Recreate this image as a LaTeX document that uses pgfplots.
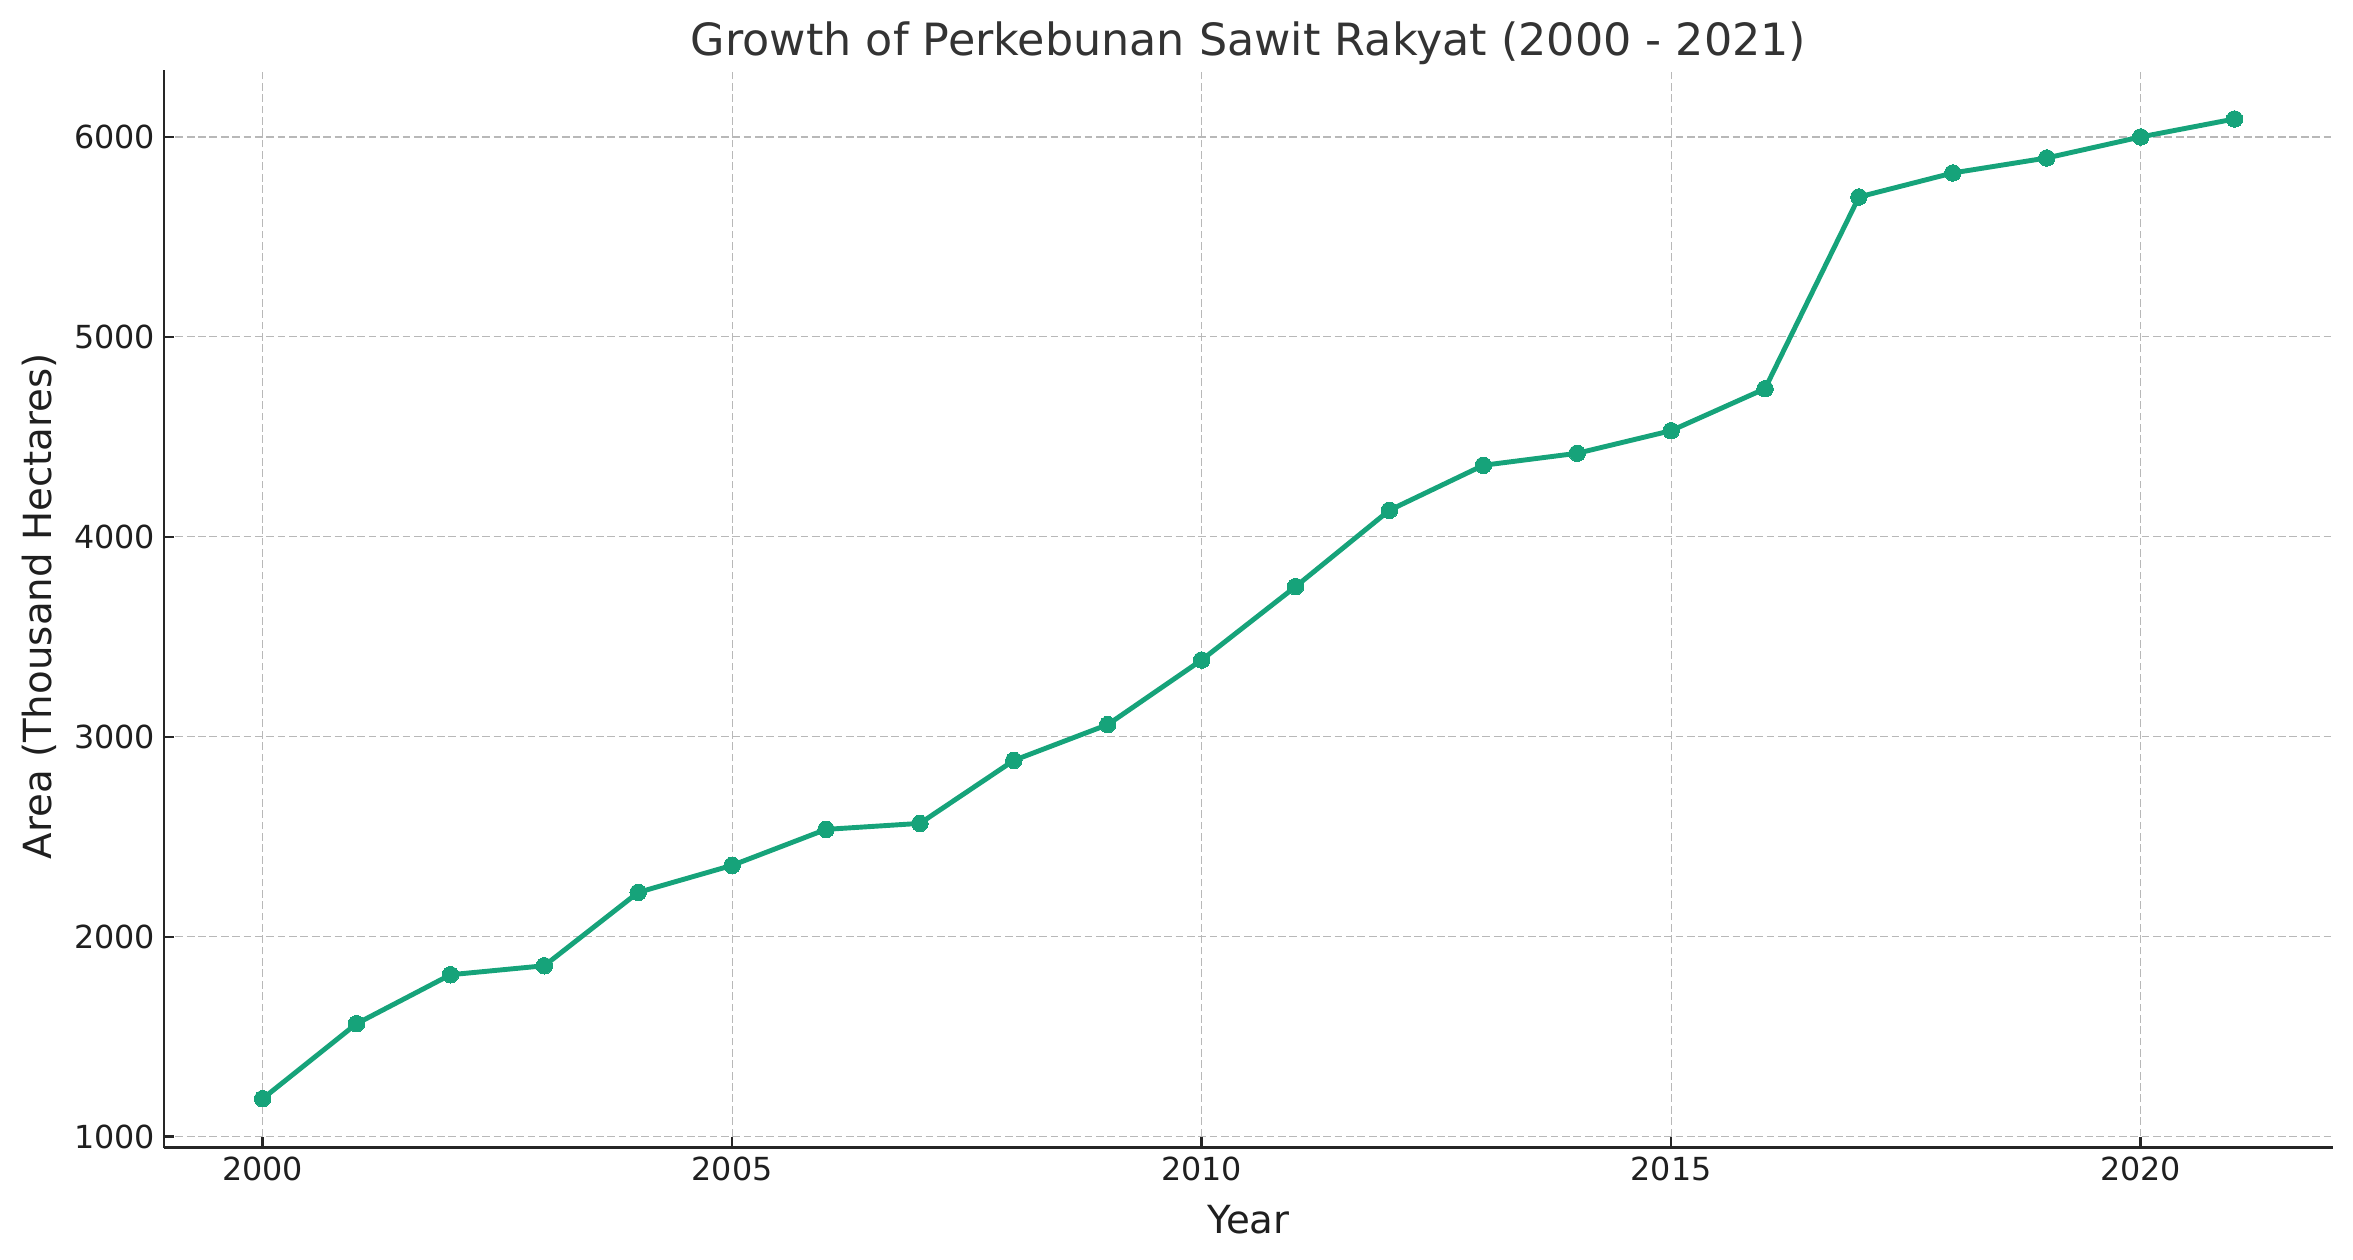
\documentclass[border=0pt]{standalone}
\usepackage{pgfplots}
\pgfplotsset{compat=1.18}
\usepackage{fontspec}
\setmainfont{DejaVu Sans}
\definecolor{linecol}{RGB}{22,163,122}
\definecolor{titlecol}{RGB}{51,51,51}
\begin{document}
\begin{tikzpicture}
\begin{axis}[
  width=839.7pt, height=417.2pt, scale only axis,
  xmin=1998.95, xmax=2022.05,
  ymin=945, ymax=6335,
  axis lines=left,
  axis line style={-, line width=0.95pt, black!85},
  xtick={2000,2005,2010,2015,2020},
  ytick={1000,2000,3000,4000,5000,6000},
  /pgf/number format/1000 sep={},
  /pgf/number format/assume math mode=true,
  tick align=inside,
  major tick length=4pt,
  tick style={line width=0.95pt, black!85},
  ticklabel style={font=\fontsize{12.3}{14}\selectfont, text=black!88},
  grid=major,
  major grid style={dash pattern=on 3pt off 1.4pt, line width=0.45pt, black!28},
  title={Growth of Perkebunan Sawit Rakyat (2000 - 2021)},
  title style={font=\fontsize{17.2}{20}\selectfont, text=titlecol, at={(0.5,1)}, anchor=base, yshift=-0.2pt, inner sep=0pt},
  xlabel={Year},
  ylabel={Area (Thousand Hectares)},
  label style={font=\fontsize{15}{18}\selectfont, text=black!88},
  every axis x label/.append style={yshift=-2.5pt},
  every axis y label/.append style={xshift=1pt},
]
\addplot[linecol, line width=1.9pt, mark=*, mark size=3.2pt, mark options={fill=linecol, draw=linecol, line width=0pt}] coordinates {
  (2000,1190) (2001,1565) (2002,1810) (2003,1855) (2004,2222)
  (2005,2357) (2006,2537) (2007,2567) (2008,2882) (2009,3061)
  (2010,3384) (2011,3751) (2012,4133) (2013,4358) (2014,4418)
  (2015,4531) (2016,4741) (2017,5700) (2018,5820) (2019,5895)
  (2020,6000) (2021,6090)
};
\end{axis}
\path ([xshift=-63.5pt,yshift=-43.3pt]current axis.south west) rectangle ([xshift=7.7pt,yshift=27.1pt]current axis.north east);
\end{tikzpicture}
\end{document}
